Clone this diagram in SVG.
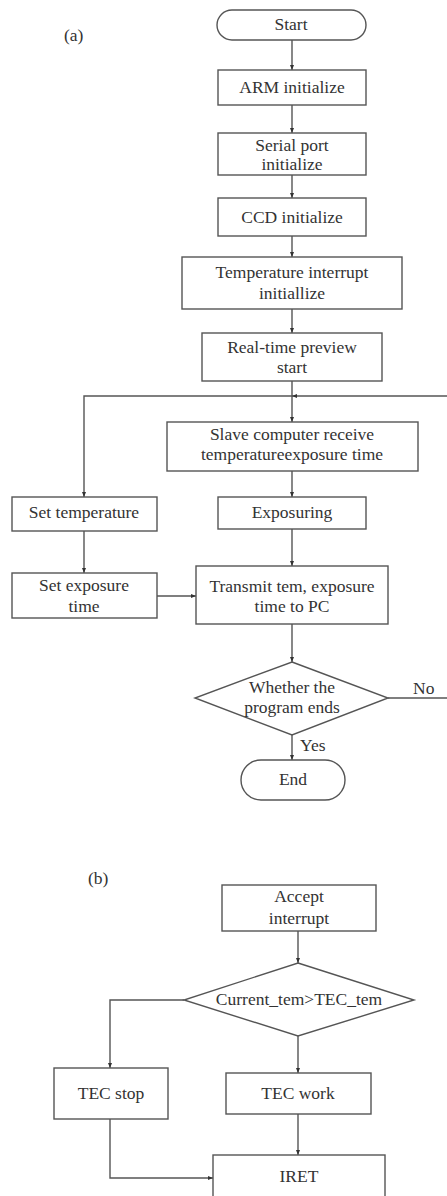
<svg xmlns="http://www.w3.org/2000/svg" width="447" height="1196" viewBox="0 0 447 1196">
<defs>
<style>
.box{fill:#fff;stroke:#555;stroke-width:1.4}
.ln{fill:none;stroke:#555;stroke-width:1.4}
.t{font-size:17.5px;fill:#333;text-anchor:middle}
.lab{font-size:17.5px;fill:#333}
</style>
<marker id="ah" viewBox="0 0 10 10" refX="10" refY="5" markerWidth="5" markerHeight="5" orient="auto" markerUnits="userSpaceOnUse">
<path d="M0,1 L10,5 L0,9 Z" fill="#333"/>
</marker>
</defs>
<rect width="447" height="1196" fill="#fff"/>
<g font-family="Liberation Serif, Times New Roman, serif">
<text class="lab" x="64" y="41">(a)</text>
<text class="lab" x="88" y="884">(b)</text>

<g id="connectors">
<line class="ln" x1="292" y1="40" x2="292" y2="70" marker-end="url(#ah)"/>
<line class="ln" x1="292" y1="105" x2="292" y2="133" marker-end="url(#ah)"/>
<line class="ln" x1="292" y1="175" x2="292" y2="198" marker-end="url(#ah)"/>
<line class="ln" x1="292" y1="236" x2="292" y2="257" marker-end="url(#ah)"/>
<line class="ln" x1="292" y1="309" x2="292" y2="333" marker-end="url(#ah)"/>
<line class="ln" x1="292" y1="381" x2="292" y2="422" marker-end="url(#ah)"/>
<line class="ln" x1="447" y1="396" x2="292" y2="396" marker-end="url(#ah)"/>
<polyline class="ln" points="292,396 84,396 84,497" marker-end="url(#ah)"/>
<line class="ln" x1="292" y1="471" x2="292" y2="497" marker-end="url(#ah)"/>
<line class="ln" x1="292" y1="529" x2="292" y2="566" marker-end="url(#ah)"/>
<line class="ln" x1="84" y1="531" x2="84" y2="573" marker-end="url(#ah)"/>
<line class="ln" x1="157" y1="596" x2="196" y2="596" marker-end="url(#ah)"/>
<line class="ln" x1="292" y1="624" x2="292" y2="662" marker-end="url(#ah)"/>
<line class="ln" x1="388" y1="698" x2="447" y2="698"/>
<text class="lab" x="413" y="694">No</text>
<line class="ln" x1="292" y1="735" x2="292" y2="760" marker-end="url(#ah)"/>
<text class="lab" x="300" y="751">Yes</text>

<line class="ln" x1="298" y1="931" x2="298" y2="963" marker-end="url(#ah)"/>
<polyline class="ln" points="184,1000 110,1000 110,1068" marker-end="url(#ah)"/>
<line class="ln" x1="298" y1="1036" x2="298" y2="1073" marker-end="url(#ah)"/>
<line class="ln" x1="298" y1="1114" x2="298" y2="1155" marker-end="url(#ah)"/>
<polyline class="ln" points="110,1119 110,1178 213,1178" marker-end="url(#ah)"/>
</g>

<g id="start"><rect class="box" x="217" y="10" width="149" height="30" rx="15"/><text class="t" x="291" y="30">Start</text></g>
<g id="arm"><rect class="box" x="218" y="70" width="148" height="35"/><text class="t" x="292" y="93">ARM initialize</text></g>
<g id="serial"><rect class="box" x="218" y="133" width="148" height="42"/><text class="t" x="292" y="151">Serial port</text><text class="t" x="292" y="170">initialize</text></g>
<g id="ccd"><rect class="box" x="218" y="198" width="148" height="38"/><text class="t" x="292" y="223">CCD initialize</text></g>
<g id="tempint"><rect class="box" x="182" y="257" width="220" height="52"/><text class="t" x="292" y="278">Temperature interrupt</text><text class="t" x="292" y="299">initiallize</text></g>
<g id="preview"><rect class="box" x="202" y="333" width="180" height="48"/><text class="t" x="292" y="353">Real-time preview</text><text class="t" x="292" y="373">start</text></g>
<g id="slave"><rect class="box" x="167" y="422" width="251" height="49"/><text class="t" x="292" y="440">Slave computer receive</text><text class="t" x="292" y="460">temperatureexposure time</text></g>
<g id="exposuring"><rect class="box" x="218" y="497" width="148" height="32"/><text class="t" x="292" y="518">Exposuring</text></g>
<g id="settemp"><rect class="box" x="12" y="497" width="145" height="34"/><text class="t" x="84" y="518">Set temperature</text></g>
<g id="setexp"><rect class="box" x="12" y="573" width="145" height="45"/><text class="t" x="84" y="591">Set exposure</text><text class="t" x="84" y="612">time</text></g>
<g id="transmit"><rect class="box" x="196" y="566" width="192" height="58"/><text class="t" x="292" y="592">Transmit tem, exposure</text><text class="t" x="292" y="612">time to PC</text></g>
<g id="decision"><polygon class="box" points="292,662 388,698 292,735 195,698"/><text class="t" x="292" y="693">Whether the</text><text class="t" x="292" y="713">program ends</text></g>
<g id="end"><rect class="box" x="241" y="760" width="104" height="40" rx="20"/><text class="t" x="293" y="785">End</text></g>

<g id="accept"><rect class="box" x="222" y="885" width="154" height="46"/><text class="t" x="299" y="902">Accept</text><text class="t" x="299" y="924">interrupt</text></g>
<g id="compare"><polygon class="box" points="298,963 414,1000 298,1036 184,1000"/><text class="t" x="299" y="1005">Current_tem&gt;TEC_tem</text></g>
<g id="tecstop"><rect class="box" x="54" y="1068" width="114" height="51"/><text class="t" x="111" y="1099">TEC stop</text></g>
<g id="tecwork"><rect class="box" x="226" y="1073" width="145" height="41"/><text class="t" x="298" y="1099">TEC work</text></g>
<g id="iret"><rect class="box" x="213" y="1155" width="172" height="45"/><text class="t" x="299" y="1182">IRET</text></g>
</g>
</svg>
